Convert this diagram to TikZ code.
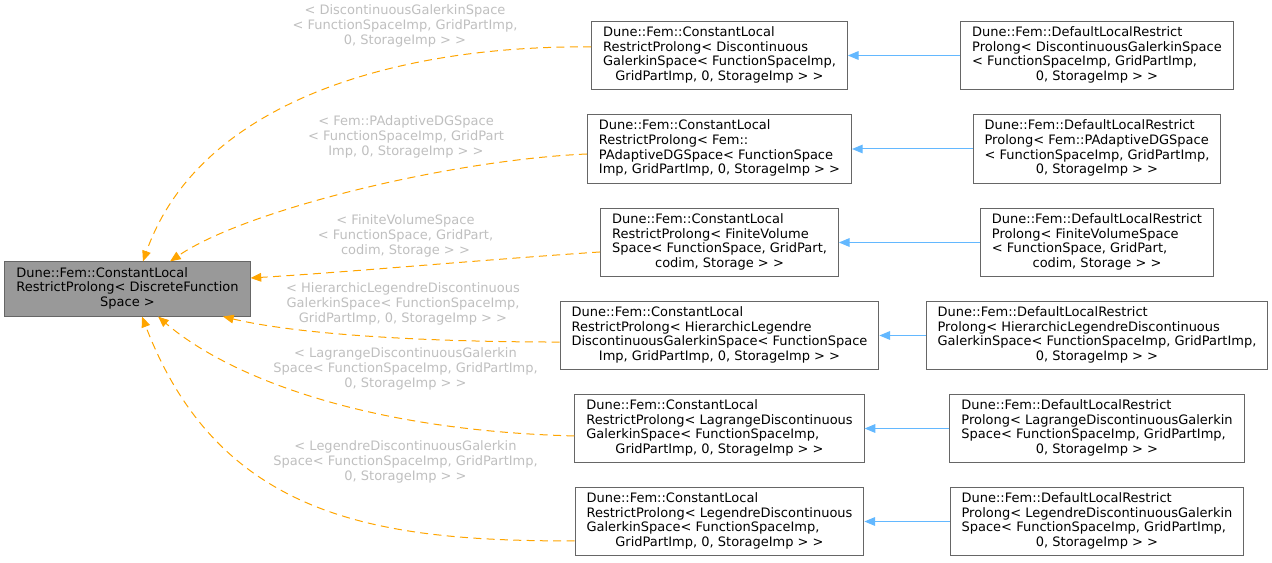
\documentclass[tikz,border=0pt]{standalone}
\usepackage{fontspec}
\setmainfont{DejaVu Sans}
\usetikzlibrary{arrows.meta}
\definecolor{edgeO}{RGB}{255,165,0}
\definecolor{edgeB}{RGB}{99,184,255}
\definecolor{boxG}{RGB}{153,153,153}
\definecolor{lineG}{RGB}{102,102,102}
\definecolor{labG}{RGB}{191,191,191}
% class box text: left aligned lines, last line centred
\newcommand{\clstext}[2]{\begin{tabular}{@{}l@{}}#1\\\multicolumn{1}{@{}c@{}}{#2}\end{tabular}}
\tikzset{cls/.style={draw=lineG, fill=white, line width=0.75pt, inner xsep=8.6pt, inner ysep=3.8pt,
    font=\fontsize{9.75}{11}\selectfont},
  rootcls/.style={cls, fill=boxG},
  inh/.style={-{Triangle[length=8pt,width=6.5pt]}, edgeB, line width=0.75pt},
  tmpl/.style={-{Triangle[length=8pt,width=6.5pt]}, edgeO, dash pattern=on 6pt off 4pt, line width=0.75pt},
  lab/.style={labG, align=center, inner sep=0pt, font=\fontsize{9.75}{11}\selectfont}}

\begin{document}
\begin{tikzpicture}[x=0.75pt, y=-0.75pt]
\useasboundingbox (0,0) rectangle (1272,563);
% base class
\node[rootcls] (root) at (127.5,289) {\clstext{Dune::Fem::ConstantLocal\\RestrictProlong< DiscreteFunction}{Space >}};
% ConstantLocalRestrictProlong specialisations
\node[cls] (c1) at (719.5,55.5) {\clstext{Dune::Fem::ConstantLocal\\RestrictProlong< Discontinuous\\GalerkinSpace< FunctionSpaceImp,}{GridPartImp, 0, StorageImp > >}};
\node[cls] (c2) at (719.5,149) {\clstext{Dune::Fem::ConstantLocal\\RestrictProlong< Fem::\\PAdaptiveDGSpace< FunctionSpace}{Imp, GridPartImp, 0, StorageImp > >}};
\node[cls] (c3) at (719.5,242.5) {\clstext{Dune::Fem::ConstantLocal\\RestrictProlong< FiniteVolume\\Space< FunctionSpace, GridPart,}{codim, Storage > >}};
\node[cls] (c4) at (719.5,335.5) {\clstext{Dune::Fem::ConstantLocal\\RestrictProlong< HierarchicLegendre\\DiscontinuousGalerkinSpace< FunctionSpace}{Imp, GridPartImp, 0, StorageImp > >}};
\node[cls] (c5) at (719.5,428.5) {\clstext{Dune::Fem::ConstantLocal\\RestrictProlong< LagrangeDiscontinuous\\GalerkinSpace< FunctionSpaceImp,}{GridPartImp, 0, StorageImp > >}};
\node[cls] (c6) at (719.5,521.5) {\clstext{Dune::Fem::ConstantLocal\\RestrictProlong< LegendreDiscontinuous\\GalerkinSpace< FunctionSpaceImp,}{GridPartImp, 0, StorageImp > >}};
% DefaultLocalRestrictProlong classes
\node[cls] (d1) at (1097,55.5) {\clstext{Dune::Fem::DefaultLocalRestrict\\Prolong< DiscontinuousGalerkinSpace\\< FunctionSpaceImp, GridPartImp,}{0, StorageImp > >}};
\node[cls] (d2) at (1097,149) {\clstext{Dune::Fem::DefaultLocalRestrict\\Prolong< Fem::PAdaptiveDGSpace\\< FunctionSpaceImp, GridPartImp,}{0, StorageImp > >}};
\node[cls] (d3) at (1097,242.5) {\clstext{Dune::Fem::DefaultLocalRestrict\\Prolong< FiniteVolumeSpace\\< FunctionSpace, GridPart,}{codim, Storage > >}};
\node[cls] (d4) at (1097,335.5) {\clstext{Dune::Fem::DefaultLocalRestrict\\Prolong< HierarchicLegendreDiscontinuous\\GalerkinSpace< FunctionSpaceImp, GridPartImp,}{0, StorageImp > >}};
\node[cls] (d5) at (1097,428.5) {\clstext{Dune::Fem::DefaultLocalRestrict\\Prolong< LagrangeDiscontinuousGalerkin\\Space< FunctionSpaceImp, GridPartImp,}{0, StorageImp > >}};
\node[cls] (d6) at (1097,521.5) {\clstext{Dune::Fem::DefaultLocalRestrict\\Prolong< LegendreDiscontinuousGalerkin\\Space< FunctionSpaceImp, GridPartImp,}{0, StorageImp > >}};
% inheritance
\foreach \i in {1,...,6}
  \draw[inh] (d\i) -- (c\i);
% template instantiation edges
\draw[tmpl] ([yshift=6.4pt]c1.west) .. controls (400,45) and (200,100) .. ([xshift=11.6pt]root.north);
\draw[tmpl] ([yshift=-3.75pt]c2.west) .. controls (450,160) and (245,210) .. ([xshift=31.9pt]root.north);
\draw[tmpl] ([yshift=-7.1pt]c3.west) .. controls (480,260) and (350,272) .. ([yshift=8.25pt]root.east);
\draw[tmpl] ([yshift=-4.9pt]c4.west) .. controls (430,342) and (300,335) .. ([xshift=71.6pt]root.south);
\draw[tmpl] ([yshift=-5.6pt]c5.west) .. controls (350,430) and (220,370) .. ([xshift=22.9pt]root.south);
\draw[tmpl] ([yshift=-14.6pt]c6.west) .. controls (380,541) and (220,520) .. ([xshift=10.9pt]root.south);
% edge labels
\node[lab] (l1) at (405,26) {< DiscontinuousGalerkinSpace\\< FunctionSpaceImp, GridPartImp,\\0, StorageImp > >};
\node[lab] (l2) at (406,137) {< Fem::PAdaptiveDGSpace\\< FunctionSpaceImp, GridPart\\Imp, 0, StorageImp > >};
\node[lab] (l3) at (405.5,236) {< FiniteVolumeSpace\\< FunctionSpace, GridPart,\\codim, Storage > >};
\node[lab] (l4) at (403,304) {< HierarchicLegendreDiscontinuous\\GalerkinSpace< FunctionSpaceImp,\\GridPartImp, 0, StorageImp > >};
\node[lab] (l5) at (405.5,369) {< LagrangeDiscontinuousGalerkin\\Space< FunctionSpaceImp, GridPartImp,\\0, StorageImp > >};
\node[lab] (l6) at (405.5,462) {< LegendreDiscontinuousGalerkin\\Space< FunctionSpaceImp, GridPartImp,\\0, StorageImp > >};
\end{tikzpicture}
\end{document}
